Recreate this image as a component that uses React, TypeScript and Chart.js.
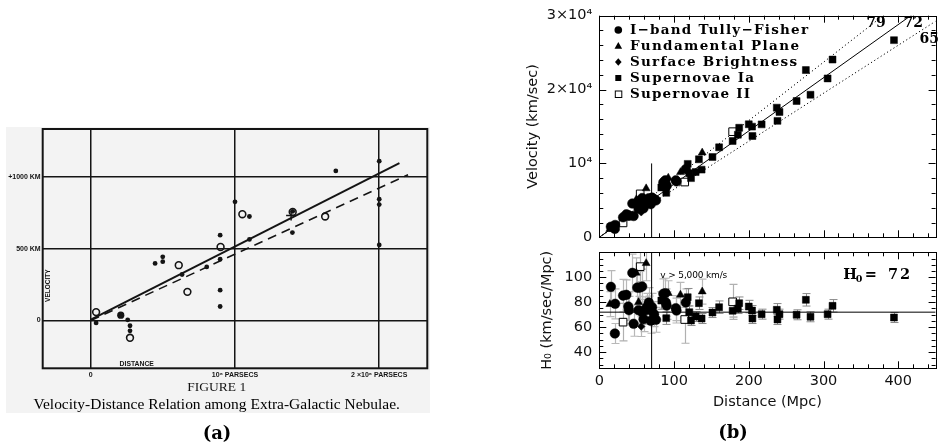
import React, { useEffect, useRef } from "react";
import { Chart, registerables } from "chart.js";

Chart.register(...registerables);

// ================= Panel (a): Hubble 1929 =================
const A_FILLED_DIST = [0.037, 0.256, 0.272, 0.272, 0.446, 0.499, 0.499, 0.633, 0.804, 0.897, 0.897, 0.897, 0.897, 1.0, 1.1, 1.1, 1.398, 1.4, 1.699, 2.0, 2.0, 2.0, 2.0];
const A_FILLED_VEL = [-17, 4, -37, -72, 397, 443, 409, 320, 373, 594, 427, 211, 97, 826, 724, 564, 612, 760, 1041, 1109, 844, 807, 526];
const A_LARGE_DIST = [0.208];
const A_LARGE_VEL = [37];
const A_OPEN_DIST = [0.037, 0.272, 0.61, 0.67, 0.9, 1.051, 1.4, 1.625];
const A_OPEN_VEL = [58, -121, 385, 199, 512, 740, 756, 724];
const A_CROSS_DIST = [1.389];
const A_CROSS_VEL = [731];
const A_SOLID_DIST = [0, 2.14];
const A_SOLID_VEL = [5, 1095];
const A_DASH_DIST = [0, 2.2];
const A_DASH_VEL = [0, 1015];
const A_X_TICKS = [0, 1, 2];
const A_X_LABELS = ["0", "10\u2076 PARSECS", "2 \u00d710\u2076 PARSECS"];
const A_Y_TICKS = [0, 500, 1000];
const A_Y_LABELS = ["0", "500 KM", "+1000 KM"];

// ================= Panel (b): Freedman et al. Hubble diagram =================
// I-band Tully-Fisher
const TF_DIST = [15.5, 21.2, 20.8, 31.8, 36.2, 38.9, 39.7, 44.2, 45.9, 50.8, 53.9, 57.4, 52.5, 57.0, 59.2, 60.5, 63.6, 66.2, 67.1, 68.9, 70.6, 73.3, 75.9, 85.7, 88.3, 89.2, 90.1, 102.4, 103.3, 115.7];
const TF_H0 = [92.3, 78.7, 54.9, 85.3, 85.9, 76.5, 73.6, 103.5, 62.7, 91.7, 91.7, 92.5, 73.6, 72.3, 66.4, 73.3, 76.0, 79.7, 73.9, 65.1, 76.0, 70.4, 65.9, 86.7, 87.2, 79.7, 77.3, 75.2, 73.3, 79.7];
const TF_ERR = [13, 12, 8, 13, 12, 11, 11, 15, 10, 14, 13, 14, 11, 10, 10, 11, 11, 12, 11, 10, 11, 10, 10, 12, 12, 11, 11, 10, 10, 11];
const TF_VEL = [1430, 1670, 1140, 2710, 3110, 2980, 2920, 4570, 2880, 4660, 4940, 5310, 3860, 4120, 3930, 4430, 4830, 5280, 4960, 4490, 5370, 5160, 5000, 7430, 7700, 7110, 6960, 7700, 7570, 9220];
// Fundamental Plane
const FP_DIST = [14.1, 49.5, 52.5, 62.7, 92.3, 108.6, 137.7];
const FP_H0 = [78.4, 103.5, 80.0, 111.2, 87.2, 85.9, 88.5];
const FP_ERR = [10, 12, 10, 14, 10, 10, 10];
const FP_VEL = [1110, 5120, 4200, 6610, 8050, 8800, 11450];
// Surface Brightness Fluctuations
const SB_DIST = [56.1];
const SB_H0 = [60.5];
const SB_ERR = [8];
const SB_VEL = [3390];
// Supernovae Ia
const S1_DIST = [83.0, 89.6, 118.3, 120.5, 122.7, 128.9, 133.3, 136.9, 151.4, 160.3, 178.4, 185.4, 187.2, 200.0, 204.4, 204.9, 217.2, 237.5, 238.4, 241.1, 264.0, 276.4, 282.6, 305.5, 312.1, 394.3];
const S1_H0 = [81.3, 67.2, 84.0, 72.0, 65.3, 68.5, 79.2, 66.9, 71.7, 76.0, 73.1, 74.9, 79.2, 76.5, 73.3, 66.9, 70.4, 73.9, 66.1, 70.4, 69.9, 81.9, 68.3, 70.4, 77.1, 67.7];
const S1_ERR = [7, 5, 7, 5, 4, 4, 5, 4, 4, 5, 5, 4, 5, 5, 4, 4, 4, 5, 4, 4, 4, 5, 4, 4, 5, 4];
const S1_VEL = [6750, 6020, 9940, 8680, 8010, 8830, 10560, 9160, 10860, 12180, 13040, 13890, 14830, 15300, 14980, 13710, 15290, 17550, 15760, 16970, 18450, 22640, 19300, 21510, 24060, 26690];
// Supernovae II
const S2_DIST = [31.8, 54.7, 114.3, 178.4];
const S2_H0 = [64.0, 108.5, 66.1, 80.3];
const S2_ERR = [15, 12, 19, 14];
const S2_VEL = [1950, 5880, 7480, 14300];

// Fit lines (H0 = 72 solid, 79 and 65 dotted)
const FIT_LABELS = ["72", "79", "65"];
const FIT_DIST = [0, 450];
const FIT72_VEL = [0, 32400];
const FIT79_VEL = [0, 35550];
const FIT65_VEL = [0, 29250];
const VCUT_DIST = [70, 70];
const VCUT_VEL = [0, 10000];
const VCUT_H0 = [27, 120];
const H72_DIST = [0, 450];
const H72_H0 = [72, 72];

const B_X_TICKS = [0, 100, 200, 300, 400];
const B_V_TICKS = [0, 10000, 20000, 30000];
const B_V_LABELS = ["0", "10\u2074", "2\u00d710\u2074", "3\u00d710\u2074"];
const B_H_TICKS = [40, 60, 80, 100];
const LEGEND_LABELS = ["I\u2212band Tully\u2212Fisher", "Fundamental Plane", "Surface Brightness", "Supernovae Ia", "Supernovae II"];

const pts = (xs: number[], ys: number[]) => xs.map((x, i) => ({ x, y: ys[i] }));

const INK = "#141414";
const SANS = "DejaVu Sans";

// ---------------- plugins ----------------
const paperPlugin = {
  id: "paperA",
  beforeDraw(chart: any) {
    const { ctx } = chart;
    ctx.save();
    ctx.fillStyle = "#f3f3f3";
    ctx.fillRect(6, 127, 424, 286);
    ctx.restore();
  },
  afterDraw(chart: any) {
    const { ctx, chartArea: a } = chart;
    ctx.save();
    ctx.strokeStyle = INK;
    ctx.lineWidth = 2;
    ctx.strokeRect(a.left, a.top, a.right - a.left, a.bottom - a.top);
    ctx.fillStyle = INK;
    ctx.textBaseline = "middle";
    ctx.textAlign = "center";
    // VELOCITY (vertical, inside frame)
    ctx.save();
    ctx.translate(a.left + 5.6, 285.7);
    ctx.rotate(-Math.PI / 2);
    ctx.font = 'bold 6.5px "Liberation Sans"';
    ctx.fillText("VELOCITY", 0, 0);
    ctx.restore();
    // DISTANCE
    ctx.font = 'bold 6.8px "Liberation Sans"';
    ctx.fillText("DISTANCE", 136.7, 364.2);
    // FIGURE 1
    ctx.font = '13.5px "Liberation Serif"';
    ctx.fillText("FIGURE 1", 216.7, 387);
    // caption, fitted to its width in the scan
    const cap = "Velocity-Distance Relation among Extra-Galactic Nebulae.";
    ctx.font = '14px "Liberation Serif"';
    const w = ctx.measureText(cap).width;
    const size = (14 * 366.7) / w;
    ctx.font = `${size}px "Liberation Serif"`;
    ctx.fillStyle = "#000";
    ctx.fillText(cap, 216.7, 404.5);
    // (a)
    ctx.font = 'bold 18px "DejaVu Serif"';
    ctx.fillText("(a)", 217, 434);
    ctx.restore();
  },
};

function frameTicks(id: string, yStep: number, yMajor: number, yStart: number) {
  return {
    id,
    afterDraw(chart: any) {
      const { ctx, chartArea: a, scales } = chart;
      const xs = scales.x;
      const ys = scales.y;
      ctx.save();
      ctx.strokeStyle = "#000";
      ctx.lineWidth = 1;
      ctx.beginPath();
      for (let v = 0; v <= 440 + 1e-6; v += 20) {
        const px = Math.round(xs.getPixelForValue(v)) + 0.5;
        const len = Math.abs(v % 100) < 1e-6 ? 7 : 4;
        ctx.moveTo(px, a.top);
        ctx.lineTo(px, a.top + len);
        ctx.moveTo(px, a.bottom);
        ctx.lineTo(px, a.bottom - len);
      }
      for (let v = yStart; v <= ys.max + 1e-6; v += yStep) {
        const py = Math.round(ys.getPixelForValue(v)) + 0.5;
        const len = Math.abs(v % yMajor) < 1e-6 ? 7 : 4;
        ctx.moveTo(a.left, py);
        ctx.lineTo(a.left + len, py);
        ctx.moveTo(a.right, py);
        ctx.lineTo(a.right - len, py);
      }
      ctx.stroke();
      ctx.strokeRect(
        Math.round(a.left) + 0.5,
        Math.round(a.top) + 0.5,
        Math.round(a.right) - Math.round(a.left),
        Math.round(a.bottom) - Math.round(a.top)
      );
      ctx.restore();
    },
  };
}

const errorBarPlugin = {
  id: "errorBars",
  beforeDatasetsDraw(chart: any) {
    const { ctx, chartArea: a, scales } = chart;
    const xs = scales.x;
    const ys = scales.y;
    ctx.save();
    ctx.beginPath();
    ctx.rect(a.left, a.top, a.right - a.left, a.bottom - a.top);
    ctx.clip();
    chart.data.datasets.forEach((ds: any) => {
      if (!ds.errors) return;
      ctx.strokeStyle = ds.errorColor;
      ctx.lineWidth = ds.errorWidth;
      ds.data.forEach((p: any, i: number) => {
        const e = ds.errors[i];
        const px = Math.round(xs.getPixelForValue(p.x)) + 0.5;
        const y1 = ys.getPixelForValue(p.y + e);
        const y2 = ys.getPixelForValue(p.y - e);
        ctx.beginPath();
        ctx.moveTo(px, y1);
        ctx.lineTo(px, y2);
        ctx.moveTo(px - 4, y1);
        ctx.lineTo(px + 4, y1);
        ctx.moveTo(px - 4, y2);
        ctx.lineTo(px + 4, y2);
        ctx.stroke();
      });
    });
    ctx.restore();
  },
};

function spacedText(ctx: any, text: string, x: number, y: number, target: number) {
  const w = ctx.measureText(text).width;
  const n = text.length;
  const ls = n > 1 ? (target - w) / (n - 1) : 0;
  ctx.letterSpacing = `${ls}px`;
  ctx.fillText(text, x, y);
  ctx.letterSpacing = "0px";
}

const LEGEND_WIDTHS = [178, 169, 167, 124, 120];

const topAnnotations = {
  id: "topAnnotations",
  afterDraw(chart: any) {
    const { ctx, chartArea: a } = chart;
    ctx.save();
    ctx.fillStyle = "#000";
    ctx.strokeStyle = "#000";
    ctx.textBaseline = "middle";
    // legend symbols
    const sx = a.left + 19;
    LEGEND_LABELS.forEach((label, i) => {
      const sy = a.top + 14.3 + i * 16;
      ctx.beginPath();
      if (i === 0) {
        ctx.arc(sx, sy, 3.8, 0, Math.PI * 2);
        ctx.fill();
      } else if (i === 1) {
        ctx.moveTo(sx, sy - 4);
        ctx.lineTo(sx + 3.8, sy + 2.8);
        ctx.lineTo(sx - 3.8, sy + 2.8);
        ctx.closePath();
        ctx.fill();
      } else if (i === 2) {
        ctx.moveTo(sx, sy - 3.8);
        ctx.lineTo(sx + 3.3, sy);
        ctx.lineTo(sx, sy + 3.8);
        ctx.lineTo(sx - 3.3, sy);
        ctx.closePath();
        ctx.fill();
      } else if (i === 3) {
        ctx.fillRect(sx - 3, sy - 3, 6, 6);
      } else {
        ctx.lineWidth = 1;
        ctx.strokeRect(sx - 3, sy - 3, 6.5, 6.5);
      }
      ctx.font = 'bold 13.5px "DejaVu Serif"';
      ctx.textAlign = "left";
      spacedText(ctx, label, a.left + 30.7, sy, LEGEND_WIDTHS[i]);
    });
    // fit-line labels
    ctx.font = 'bold 14px "DejaVu Serif"';
    ctx.textAlign = "center";
    ctx.fillText(FIT_LABELS[1], a.left + 276.7, a.top + 8);
    ctx.fillText(FIT_LABELS[0], a.left + 314, a.top + 8);
    ctx.fillText(FIT_LABELS[2], a.left + 330, a.top + 23.5);
    ctx.restore();
  },
};

const bottomAnnotations = {
  id: "bottomAnnotations",
  afterDraw(chart: any) {
    const { ctx, chartArea: a } = chart;
    ctx.save();
    ctx.fillStyle = "#000";
    ctx.textBaseline = "middle";
    ctx.textAlign = "left";
    ctx.font = `9px "${SANS}"`;
    spacedText(ctx, "v > 5,000 km/s", a.left + 61, a.top + 23.7, 67);
    // H0 = 72
    ctx.font = 'bold 14.5px "DejaVu Serif"';
    ctx.fillText("H", a.left + 244, a.top + 22.7);
    ctx.font = 'bold 9.5px "DejaVu Serif"';
    ctx.fillText("0", a.left + 256.5, a.top + 27.5);
    ctx.font = 'bold 14.5px "DejaVu Serif"';
    ctx.textAlign = "center";
    ctx.fillText("=", a.left + 271.4, a.top + 22.7);
    ctx.textAlign = "left";
    spacedText(ctx, "72", a.left + 288.7, a.top + 22.7, 22);
    // (b)
    ctx.textAlign = "center";
    ctx.font = 'bold 18px "DejaVu Serif"';
    ctx.fillText("(b)", 243, 203);
    ctx.restore();
  },
};

// ---------------- dataset helpers ----------------
const tfStyle = { pointStyle: "circle", pointRadius: 4.8, backgroundColor: "#000", borderColor: "#000", borderWidth: 0.5 };
const fpStyle = { pointStyle: "triangle", pointRadius: 4.6, backgroundColor: "#000", borderColor: "#000", borderWidth: 0.5 };
const sbStyle = { pointStyle: "rectRot", pointRadius: 3.8, backgroundColor: "#000", borderColor: "#000", borderWidth: 0.5 };
const s1Style = { pointStyle: "rect", pointRadius: 4.9, backgroundColor: "#000", borderColor: "#000", borderWidth: 0.5 };
const s2Style = { pointStyle: "rect", pointRadius: 5.4, backgroundColor: "#fff", borderColor: "#000", borderWidth: 1 };
const lineStyle = { showLine: true, pointRadius: 0, borderColor: "#000", borderWidth: 1, order: 10, fill: false };

const commonOpts = {
  animation: false,
  responsive: false,
  devicePixelRatio: 1,
  events: [],
  plugins: { legend: { display: false }, tooltip: { enabled: false } },
};

const tickFont = { family: SANS, size: 14.5 };

export default function App() {
  const refA = useRef<HTMLCanvasElement>(null);
  const refB1 = useRef<HTMLCanvasElement>(null);
  const refB2 = useRef<HTMLCanvasElement>(null);

  useEffect(() => {
    const chartA = new Chart(refA.current as HTMLCanvasElement, {
      type: "scatter",
      data: {
        datasets: [
          { label: "Individual nebulae", data: pts(A_FILLED_DIST, A_FILLED_VEL), pointStyle: "circle", pointRadius: 2.4, backgroundColor: INK, borderColor: INK, borderWidth: 0 },
          { label: "Individual nebula (large)", data: pts(A_LARGE_DIST, A_LARGE_VEL), pointStyle: "circle", pointRadius: 3.6, backgroundColor: INK, borderColor: INK, borderWidth: 0 },
          { label: "Groups", data: pts(A_OPEN_DIST, A_OPEN_VEL), pointStyle: "circle", pointRadius: 3.4, backgroundColor: "rgba(243,243,243,0)", borderColor: INK, borderWidth: 1.6 },
          { label: "Mean", data: pts(A_CROSS_DIST, A_CROSS_VEL), pointStyle: "cross", pointRadius: 5, borderColor: INK, borderWidth: 1.5 },
          { label: "Solution (individual)", data: pts(A_SOLID_DIST, A_SOLID_VEL), showLine: true, pointRadius: 0, borderColor: INK, borderWidth: 2, order: 10 },
          { label: "Solution (groups)", data: pts(A_DASH_DIST, A_DASH_VEL), showLine: true, pointRadius: 0, borderColor: INK, borderWidth: 1.6, borderDash: [9, 6], order: 10 },
        ],
      },
      options: {
        ...commonOpts,
        layout: { padding: { left: 0, top: 129, right: 62.7, bottom: 59.7 } },
        scales: {
          x: {
            type: "linear",
            min: -1 / 3,
            max: 7 / 3,
            afterBuildTicks: (s: any) => { s.ticks = A_X_TICKS.map((v) => ({ value: v })); },
            afterFit: (s: any) => { s.height = 20; },
            grid: { color: INK, lineWidth: 1.5, drawTicks: false },
            border: { display: false },
            ticks: { padding: 2.8, autoSkip: false, maxRotation: 0, color: INK, font: { family: "Liberation Sans", size: 7, weight: "bold" }, callback: (_v: any, i: number) => A_X_LABELS[i] },
          },
          y: {
            type: "linear",
            min: -1000 / 3,
            max: 4000 / 3,
            afterBuildTicks: (s: any) => { s.ticks = A_Y_TICKS.map((v) => ({ value: v })); },
            afterFit: (s: any) => { s.width = 42.7; },
            grid: { color: INK, lineWidth: 1.5, drawTicks: false },
            border: { display: false },
            ticks: { padding: 2, autoSkip: false, color: INK, font: { family: "Liberation Sans", size: 7, weight: "bold" }, callback: (_v: any, i: number) => A_Y_LABELS[i] },
          },
        },
      } as any,
      plugins: [paperPlugin],
    } as any);

    const chartB1 = new Chart(refB1.current as HTMLCanvasElement, {
      type: "scatter",
      data: {
        datasets: [
          { label: "I-band Tully-Fisher", data: pts(TF_DIST, TF_VEL), ...tfStyle },
          { label: "Fundamental Plane", data: pts(FP_DIST, FP_VEL), ...fpStyle },
          { label: "Surface Brightness", data: pts(SB_DIST, SB_VEL), ...sbStyle },
          { label: "Supernovae Ia", data: pts(S1_DIST, S1_VEL), ...s1Style },
          { label: "Supernovae II", data: pts(S2_DIST, S2_VEL), ...s2Style },
          { label: "H0 = 72", data: pts(FIT_DIST, FIT72_VEL), ...lineStyle },
          { label: "H0 = 79", data: pts(FIT_DIST, FIT79_VEL), ...lineStyle, borderDash: [1.2, 2.6] },
          { label: "H0 = 65", data: pts(FIT_DIST, FIT65_VEL), ...lineStyle, borderDash: [1.2, 2.6] },
          { label: "v cut", data: pts(VCUT_DIST, VCUT_VEL), ...lineStyle },
        ],
      },
      options: {
        ...commonOpts,
        layout: { padding: { left: 0, top: 15, right: 1.3, bottom: 0.7 } },
        scales: {
          x: { type: "linear", min: 0, max: 450, display: false },
          y: {
            type: "linear",
            min: 0,
            max: 30000,
            afterBuildTicks: (s: any) => { s.ticks = B_V_TICKS.map((v) => ({ value: v })); },
            afterFit: (s: any) => { s.width = 109.3; },
            grid: { display: false, drawTicks: false },
            border: { display: false },
            ticks: { padding: 7, autoSkip: false, color: "#111", font: tickFont, callback: (_v: any, i: number) => B_V_LABELS[i] },
            title: { display: true, text: "Velocity (km/sec)", color: "#111", font: tickFont, padding: { top: 34.8, bottom: 0 } },
          },
        },
      } as any,
      plugins: [frameTicks("ticksB1", 2000, 10000, 0), topAnnotations],
    } as any);

    const chartB2 = new Chart(refB2.current as HTMLCanvasElement, {
      type: "scatter",
      data: {
        datasets: [
          { label: "I-band Tully-Fisher", data: pts(TF_DIST, TF_H0), errors: TF_ERR, errorColor: "#b8b8b8", errorWidth: 1.2, ...tfStyle },
          { label: "Fundamental Plane", data: pts(FP_DIST, FP_H0), errors: FP_ERR, errorColor: "#b8b8b8", errorWidth: 1.2, ...fpStyle },
          { label: "Surface Brightness", data: pts(SB_DIST, SB_H0), errors: SB_ERR, errorColor: "#b8b8b8", errorWidth: 1.2, ...sbStyle },
          { label: "Supernovae Ia", data: pts(S1_DIST, S1_H0), errors: S1_ERR, errorColor: "#8a8a8a", errorWidth: 1, ...s1Style },
          { label: "Supernovae II", data: pts(S2_DIST, S2_H0), errors: S2_ERR, errorColor: "#b0b0b0", errorWidth: 1.2, ...s2Style },
          { label: "H0 = 72", data: pts(H72_DIST, H72_H0), ...lineStyle },
          { label: "v cut", data: pts(VCUT_DIST, VCUT_H0), ...lineStyle },
        ],
      },
      options: {
        ...commonOpts,
        layout: { padding: { left: 0, top: 22.3, right: 1.3, bottom: 35.7 } },
        scales: {
          x: {
            type: "linear",
            min: 0,
            max: 450,
            afterBuildTicks: (s: any) => { s.ticks = B_X_TICKS.map((v) => ({ value: v })); },
            afterFit: (s: any) => { s.height = 44; },
            grid: { display: false, drawTicks: false },
            border: { display: false },
            ticks: { padding: 4.7, autoSkip: false, maxRotation: 0, color: "#111", font: tickFont },
            title: { display: true, text: "Distance (Mpc)", color: "#111", font: tickFont, padding: { top: 0, bottom: 1.6 } },
          },
          y: {
            type: "linear",
            min: 27,
            max: 120,
            afterBuildTicks: (s: any) => { s.ticks = B_H_TICKS.map((v) => ({ value: v })); },
            afterFit: (s: any) => { s.width = 109.3; },
            grid: { display: false, drawTicks: false },
            border: { display: false },
            ticks: { padding: 7, autoSkip: false, color: "#111", font: tickFont },
            title: { display: true, text: "H\u2080 (km/sec/Mpc)", color: "#111", font: tickFont, padding: { top: 48.8, bottom: 0 } },
          },
        },
      } as any,
      plugins: [errorBarPlugin, frameTicks("ticksB2", 5, 20, 30), bottomAnnotations],
    } as any);

    return () => {
      chartA.destroy();
      chartB1.destroy();
      chartB2.destroy();
    };
  }, []);

  return (
    <div style={{ position: "fixed", left: 0, top: 0, width: 942, height: 448, background: "#fff", overflow: "hidden" }}>
      <canvas ref={refA} width={490} height={448} style={{ position: "absolute", left: 0, top: 0, width: 490, height: 448 }} />
      <canvas ref={refB1} width={452} height={253} style={{ position: "absolute", left: 490, top: 0, width: 452, height: 253 }} />
      <canvas ref={refB2} width={452} height={218} style={{ position: "absolute", left: 490, top: 230, width: 452, height: 218 }} />
    </div>
  );
}
